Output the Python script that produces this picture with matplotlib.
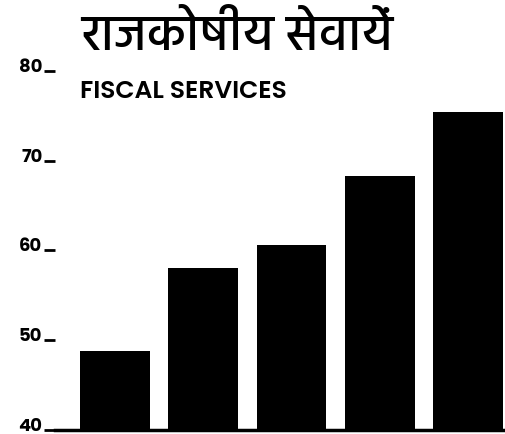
import numpy as np
import matplotlib.pyplot as plt
from matplotlib import font_manager

# values
bar_values = [48.8, 58.0, 60.6, 68.3, 75.4]
y_ticks = [40, 50, 60, 70, 80]
y_tick_labels = [str(v) for v in y_ticks]
title_hi = "राजकोषीय सेवायें"
title_en = "FISCAL SERVICES"

have = {f.name for f in font_manager.fontManager.ttflist}
deva_font = 'FreeSans'
for n in ['Hind', 'Mukta', 'Noto Sans Devanagari', 'Poppins', 'Yantramanav', 'Biryani']:
    if n in have:
        deva_font = n
        break
latin_font = 'Poppins' if 'Poppins' in have else 'DejaVu Sans'

fig = plt.figure(figsize=(5.06, 4.35), dpi=100)
ax = fig.add_axes([55 / 506, 4 / 435, 1 - 55 / 506, 431 / 435])

x = np.arange(len(bar_values))
ax.bar(x, np.array(bar_values) - 40, bottom=40, width=0.79, color='black')

ax.set_xlim(-0.68, 4.43)
ax.set_ylim(40, 88)
ax.set_xticks([])
ax.set_yticks(y_ticks)
ax.set_yticklabels(y_tick_labels, fontsize=13, fontweight='bold', family=latin_font)
for lab in ax.get_yticklabels():
    lab.set_va('baseline')
# the little dash after each number is the tick itself
ax.tick_params(axis='y', direction='out', length=8, width=2, pad=1)
for s in ['top', 'right', 'left']:
    ax.spines[s].set_visible(False)
ax.spines['bottom'].set_linewidth(2.5)

fig.text(81 / 506, 1 - 50 / 435, title_hi, family=[deva_font, 'DejaVu Sans'],
         fontsize=36, fontweight='medium', va='baseline', ha='left')
fig.text(80 / 506, 1 - 93 / 435, title_en, family=latin_font, fontsize=18,
         fontweight='semibold', va='center', ha='left')

fig.savefig('out.png', dpi=100)
